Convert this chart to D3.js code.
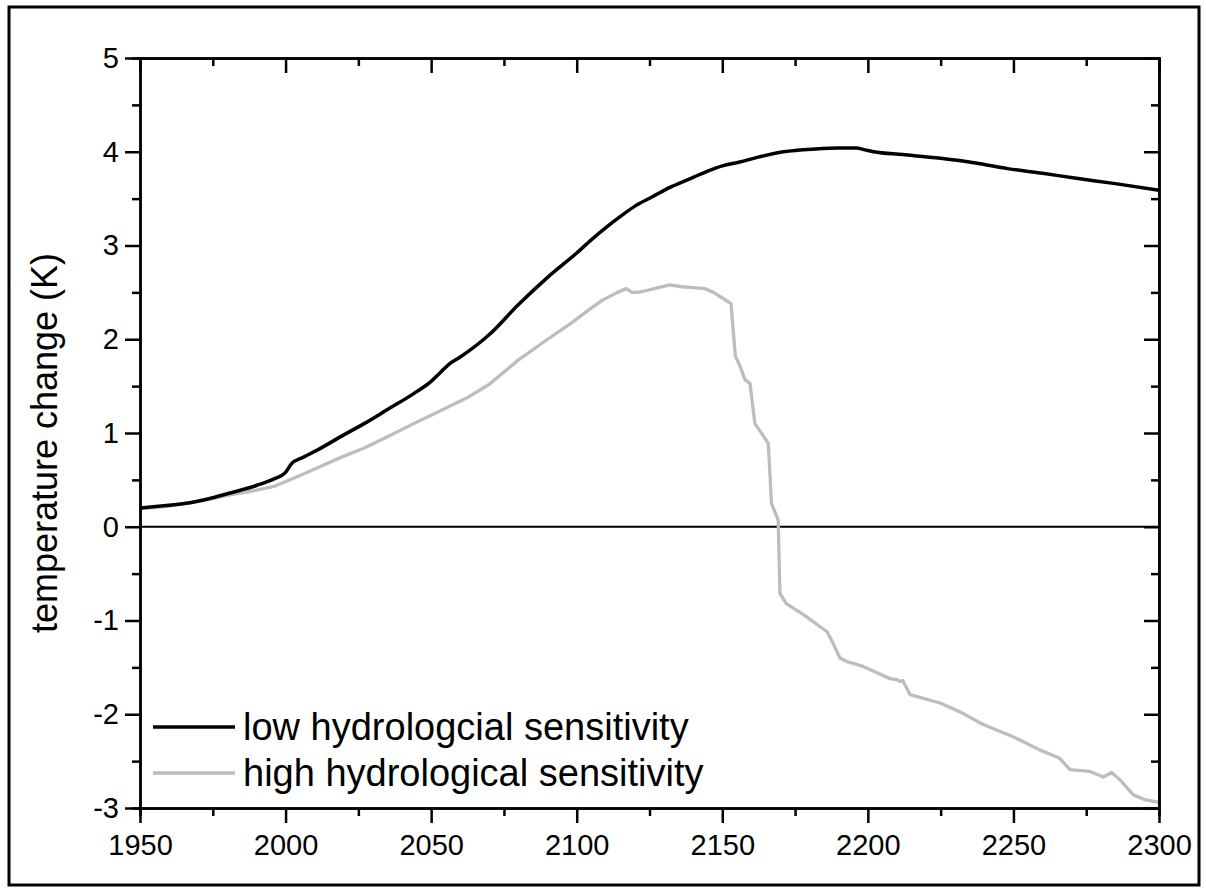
<!DOCTYPE html>
<html>
<head>
<meta charset="utf-8">
<script src="https://cdn.jsdelivr.net/npm/d3@7"></script>
<style>
  body { margin: 0; background: #fff; }
  svg { display: block; font-family: "Liberation Sans", Arial, sans-serif; }
</style>
</head>
<body>
<div id="chart"></div>
<script>
// low hydrological sensitivity (black)
const lowYears = [1950, 1960, 1966, 1975, 1981, 1990, 1996, 2000, 2002, 2006, 2011, 2020, 2027, 2035, 2044, 2050,
  2053, 2056, 2060, 2070, 2080, 2090, 2100, 2105, 2110, 2115, 2120, 2126, 2132, 2138, 2144, 2150, 2156, 2162,
  2171, 2182, 2190, 2196, 2199, 2202, 2212, 2225, 2237, 2248, 2260, 2271, 2285, 2300];
const lowValues = [0.20, 0.23, 0.25, 0.31, 0.36, 0.44, 0.51, 0.58, 0.67, 0.74, 0.82, 0.98, 1.10, 1.25, 1.42, 1.55,
  1.64, 1.73, 1.81, 2.05, 2.37, 2.66, 2.92, 3.06, 3.19, 3.31, 3.42, 3.52, 3.62, 3.70, 3.78, 3.85, 3.89, 3.94,
  4.00, 4.03, 4.04, 4.04, 4.02, 4.00, 3.97, 3.93, 3.88, 3.82, 3.77, 3.72, 3.66, 3.59];

// high hydrological sensitivity (grey)
const highYears = [1950, 1960, 1970, 1981, 1990, 1996, 2003, 2011, 2019, 2027, 2035, 2044, 2050, 2056, 2062, 2070,
  2080, 2090, 2098, 2104, 2109, 2114, 2117, 2119, 2121, 2124, 2128, 2132, 2136, 2140, 2144, 2147, 2150, 2153,
  2154, 2154.5, 2156, 2157.8, 2159.5, 2161.2, 2163, 2165.8, 2166.9, 2169.2, 2169.8, 2172, 2178, 2186, 2188,
  2190.4, 2193, 2198.4, 2207.6, 2210, 2211, 2212, 2214.5, 2224.8, 2232, 2239.6, 2249.9, 2259, 2265.9, 2269.4,
  2276.3, 2280.9, 2283.7, 2286.6, 2291.2, 2295, 2300];
const highValues = [0.19, 0.22, 0.27, 0.34, 0.39, 0.43, 0.52, 0.63, 0.74, 0.84, 0.96, 1.10, 1.19, 1.28, 1.37, 1.52,
  1.78, 2.00, 2.17, 2.31, 2.42, 2.50, 2.54, 2.50, 2.50, 2.52, 2.55, 2.58, 2.56, 2.55, 2.54, 2.50, 2.44, 2.38,
  2.00, 1.82, 1.72, 1.57, 1.53, 1.10, 1.02, 0.89, 0.25, 0.07, -0.71, -0.82, -0.94, -1.12, -1.24,
  -1.40, -1.44, -1.49, -1.62, -1.63, -1.65, -1.64, -1.79, -1.88, -1.98, -2.11, -2.24, -2.38, -2.47, -2.59,
  -2.61, -2.67, -2.62, -2.70, -2.86, -2.91, -2.94];

const xMajorTicks = [1950, 2000, 2050, 2100, 2150, 2200, 2250, 2300];
const xMinorTicks = [1975, 2025, 2075, 2125, 2175, 2225, 2275];
const yMajorTicks = [-3, -2, -1, 0, 1, 2, 3, 4, 5];
const yMinorTicks = [-2.5, -1.5, -0.5, 0.5, 1.5, 2.5, 3.5, 4.5];

const seriesNames = ["low hydrologcial sensitivity", "high hydrological sensitivity"];
const seriesColors = ["#000000", "#bdbdbd"];

const width = 1206, height = 891;
const margin = { top: 58, right: 47, bottom: 83, left: 140 };
const innerW = width - margin.left - margin.right;
const innerH = height - margin.top - margin.bottom;

const svg = d3.select("#chart").append("svg")
  .attr("width", width)
  .attr("height", height);

// outer frame
svg.append("rect")
  .attr("x", 9).attr("y", 7)
  .attr("width", 1190).attr("height", 878)
  .attr("fill", "none")
  .attr("stroke", "#000")
  .attr("stroke-width", 3);

const g = svg.append("g")
  .attr("transform", `translate(${margin.left},${margin.top})`);

const x = d3.scaleLinear().domain([1950, 2300]).range([0, innerW]);
const y = d3.scaleLinear().domain([-3, 5]).range([innerH, 0]);

// zero line
g.append("line")
  .attr("x1", 0).attr("x2", innerW)
  .attr("y1", y(0)).attr("y2", y(0))
  .attr("stroke", "#000")
  .attr("stroke-width", 2);

// series lines
const line = d3.line()
  .x(d => x(d[0]))
  .y(d => y(d[1]));

const highData = highYears.map((yr, i) => [yr, highValues[i]]);
const lowData = lowYears.map((yr, i) => [yr, lowValues[i]]);

g.append("path")
  .datum(highData)
  .attr("d", line)
  .attr("fill", "none")
  .attr("stroke", seriesColors[1])
  .attr("stroke-width", 3.3)
  .attr("stroke-linejoin", "round");

g.append("path")
  .datum(lowData)
  .attr("d", line.curve(d3.curveMonotoneX))
  .attr("fill", "none")
  .attr("stroke", seriesColors[0])
  .attr("stroke-width", 3.5)
  .attr("stroke-linejoin", "round");

// axes
function styleAxis(sel) {
  sel.select(".domain").attr("stroke-width", 2.5);
  sel.selectAll(".tick line").attr("stroke-width", 2.5);
  sel.selectAll(".tick text")
    .style("font-size", "29px")
    .style("font-family", "'Liberation Sans', Arial, sans-serif")
    .attr("fill", "#000");
}

// bottom: ticks outward
g.append("g")
  .attr("transform", `translate(0,${innerH})`)
  .call(d3.axisBottom(x).tickValues(xMinorTicks).tickSize(8).tickFormat(""))
  .call(styleAxis);
g.append("g")
  .attr("transform", `translate(0,${innerH})`)
  .call(d3.axisBottom(x).tickValues(xMajorTicks).tickSizeInner(15).tickSizeOuter(0).tickPadding(11).tickFormat(d3.format("d")))
  .call(styleAxis);

// top: ticks inward
g.append("g")
  .call(d3.axisTop(x).tickValues(xMinorTicks).tickSize(-8).tickFormat(""))
  .call(styleAxis);
g.append("g")
  .call(d3.axisTop(x).tickValues(xMajorTicks).tickSizeInner(-15).tickSizeOuter(0).tickFormat(""))
  .call(styleAxis);

// left: ticks outward
g.append("g")
  .call(d3.axisLeft(y).tickValues(yMinorTicks).tickSize(8).tickFormat(""))
  .call(styleAxis);
g.append("g")
  .call(d3.axisLeft(y).tickValues(yMajorTicks).tickSizeInner(15).tickSizeOuter(0).tickPadding(6)
    .tickFormat(d => d < 0 ? "-" + Math.abs(d) : d))
  .call(styleAxis);

// right: ticks inward
g.append("g")
  .attr("transform", `translate(${innerW},0)`)
  .call(d3.axisRight(y).tickValues(yMinorTicks).tickSize(-8).tickFormat(""))
  .call(styleAxis);
g.append("g")
  .attr("transform", `translate(${innerW},0)`)
  .call(d3.axisRight(y).tickValues(yMajorTicks).tickSizeInner(-15).tickSizeOuter(0).tickFormat(""))
  .call(styleAxis);

// y axis title
svg.append("text")
  .attr("transform", `translate(57,${margin.top + innerH / 2 + 10}) rotate(-90)`)
  .attr("text-anchor", "middle")
  .style("font-size", "36px")
  .text("temperature change (K)");

// legend
const legend = g.append("g").attr("transform", "translate(13,669)");
seriesNames.forEach((name, i) => {
  const row = legend.append("g").attr("transform", `translate(0,${i * 46})`);
  row.append("line")
    .attr("x1", 0).attr("x2", 82)
    .attr("y1", 0).attr("y2", 0)
    .attr("stroke", seriesColors[i])
    .attr("stroke-width", 3.5);
  row.append("text")
    .attr("x", 90)
    .attr("y", 13)
    .style("font-size", "38px")
    .text(name);
});
</script>
</body>
</html>
